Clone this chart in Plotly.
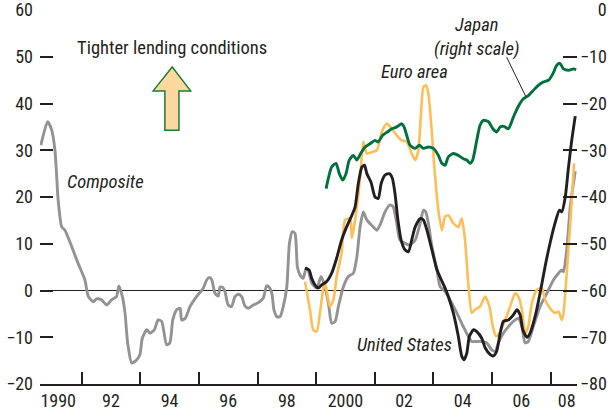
import plotly.graph_objects as go

# ---- data (x in fractional years; left scale for Composite/US/Euro, right scale for Japan)
composite_x = [1989.61,1989.84,1989.98,1990.09,1990.15,1990.20,1990.32,1990.43,1990.66,1990.88,
               1991.11,1991.23,1991.40,1991.51,1991.68,1991.85,1992.02,1992.19,1992.27,1992.39,
               1992.48,1992.57,1992.71,1992.88,1992.99,1993.07,1993.22,1993.33,1993.48,1993.61,
               1993.73,1993.90,1994.01,1994.11,1994.24,1994.36,1994.41,1994.53,1994.70,1994.92,
               1995.15,1995.27,1995.36,1995.44,1995.55,1995.66,1995.72,1995.81,1995.89,1996.00,
               1996.12,1996.23,1996.35,1996.46,1996.57,1996.69,1996.86,1997.03,1997.20,1997.31,
               1997.40,1997.49,1997.56,1997.66,1997.77,1997.88,1998.00,1998.09,1998.19,1998.28,
               1998.36,1998.45,1998.56,1998.66,1998.73,1998.85,1999.02,1999.17,1999.30,1999.42,
               1999.53,1999.65,1999.76,1999.93,2000.10,2000.27,2000.39,2000.50,2000.61,2000.73,
               2000.95,2001.07,2001.18,2001.35,2001.52,2001.63,2001.75,2001.86,2002.03,2002.20,
               2002.38,2002.55,2002.66,2002.74,2002.83,2002.95,2003.12,2003.23,2003.40,2003.57,
               2003.80,2004.02,2004.19,2004.31,2004.48,2004.65,2004.82,2004.99,2005.11,2005.22,
               2005.39,2005.62,2005.79,2005.90,2006.02,2006.13,2006.24,2006.41,2006.64,2006.87,
               2007.10,2007.27,2007.38,2007.44,2007.55,2007.67,2007.84]
composite_y = [31.1,36.1,34.3,30.0,24.3,19.3,13.6,12.9,9.4,5.8,
               2.3,-1.3,-2.4,-1.8,-2.0,-3.1,-2.0,-1.3,1.0,-1.3,
               -4.8,-11.2,-15.5,-14.8,-13.7,-10.2,-8.4,-9.1,-8.4,-6.3,
               -6.6,-11.6,-11.2,-6.3,-4.1,-3.8,-6.3,-6.0,-3.4,-1.3,
               0.5,2.3,2.8,2.3,-0.6,-1.2,0.7,0.7,-0.2,-3.1,
               -3.4,-1.3,-0.8,-1.3,-3.3,-3.8,-3.1,-2.6,-1.6,1.0,
               0.7,-0.6,-4.1,-5.6,-5.6,-3.4,0.8,10.1,12.6,12.2,
               5.1,3.3,2.6,4.8,4.4,1.6,0.5,3.0,0.8,-2.7,
               -7.0,-6.6,-3.4,0.8,3.0,3.7,7.2,13.6,16.8,15.1,
               13.6,12.9,14.0,16.8,18.3,17.9,14.4,10.8,10.1,9.7,
               10.8,14.4,17.2,16.8,14.4,9.4,4.4,0.8,-0.2,-2.0,
               -4.8,-7.7,-9.8,-10.9,-10.9,-10.9,-11.2,-12.7,-13.0,-11.2,
               -9.1,-7.3,-6.3,-5.9,-7.7,-11.2,-10.9,-7.7,-3.4,-0.6,
               2.3,3.7,4.4,4.0,8.7,17.9,25.5]

us_x = [1998.62,1998.76,1998.85,1998.96,1999.08,1999.19,1999.36,1999.53,1999.70,1999.87,
        2000.04,2000.22,2000.33,2000.44,2000.56,2000.65,2000.73,2000.87,2001.01,2001.12,
        2001.22,2001.35,2001.50,2001.60,2001.69,2001.79,2001.90,2002.03,2002.15,2002.26,
        2002.38,2002.55,2002.66,2002.78,2002.95,2003.12,2003.29,2003.40,2003.51,2003.68,
        2003.85,2003.97,2004.05,2004.14,2004.23,2004.37,2004.48,2004.65,2004.77,2004.94,
        2005.05,2005.16,2005.28,2005.39,2005.56,2005.73,2005.85,2005.96,2006.05,2006.19,
        2006.30,2006.47,2006.64,2006.81,2006.98,2007.15,2007.30,2007.38,2007.50,2007.61,
        2007.72,2007.84]
us_y = [4.8,4.4,2.6,1.2,0.5,1.2,1.9,3.7,6.9,10.8,
        13.6,16.1,17.9,22.9,26.4,26.8,25.0,23.2,20.0,19.7,
        22.9,24.7,25.0,24.0,20.8,15.1,10.8,8.7,8.3,10.8,
        13.6,15.4,15.1,12.9,8.7,4.5,2.0,0.5,-1.3,-4.8,
        -9.8,-14.1,-14.8,-13.4,-9.8,-8.4,-8.8,-10.2,-12.3,-13.7,
        -14.0,-13.0,-9.1,-6.6,-6.3,-5.2,-4.1,-5.2,-8.4,-10.0,
        -9.1,-5.6,-0.6,5.1,10.1,14.4,17.2,16.8,20.0,26.4,
        32.1,37.3]

euro_x = [1998.62,1998.79,1998.90,1999.02,1999.13,1999.25,1999.30,1999.47,1999.59,1999.70,
          1999.87,1999.99,2000.16,2000.22,2000.33,2000.44,2000.52,2000.61,2000.73,2000.90,
          2001.07,2001.24,2001.41,2001.58,2001.75,2001.92,2002.09,2002.26,2002.38,2002.49,
          2002.57,2002.66,2002.75,2002.83,2002.95,2003.06,2003.17,2003.29,2003.40,2003.51,
          2003.68,2003.85,2003.97,2004.08,2004.19,2004.31,2004.42,2004.59,2004.77,2004.91,
          2005.03,2005.14,2005.28,2005.45,2005.62,2005.79,2005.90,2006.02,2006.13,2006.24,
          2006.36,2006.53,2006.70,2006.81,2006.98,2007.15,2007.27,2007.38,2007.44,2007.55,
          2007.67,2007.80]
euro_y = [1.9,-4.1,-8.4,-8.8,-4.8,0.8,1.9,-3.4,-2.0,3.0,
          8.0,15.1,15.4,11.2,15.1,20.5,25.5,31.8,29.3,29.6,
          30.0,33.9,35.7,34.6,33.2,32.1,31.8,29.3,27.9,30.0,
          37.1,43.5,43.9,42.1,33.6,24.3,17.2,12.9,15.8,16.1,
          14.4,13.6,15.4,10.8,1.6,-4.8,-4.1,-3.4,-1.3,-3.4,
          -7.7,-9.8,-8.8,-6.3,-3.4,-0.6,-1.3,-4.1,-9.1,-7.7,
          -2.7,0.1,0.5,-2.0,-3.8,-4.8,-4.5,-6.3,-4.8,3.7,
          14.4,27.2]

japan_x = [1999.34,1999.53,1999.68,1999.79,1999.91,2000.02,2000.13,2000.27,2000.39,2000.52,
           2000.67,2000.84,2001.01,2001.12,2001.27,2001.43,2001.58,2001.75,2001.92,2002.00,
           2002.09,2002.20,2002.38,2002.52,2002.66,2002.83,2003.00,2003.17,2003.29,2003.40,
           2003.51,2003.68,2003.85,2004.02,2004.14,2004.25,2004.34,2004.48,2004.59,2004.71,
           2004.88,2005.03,2005.16,2005.28,2005.41,2005.56,2005.73,2005.90,2006.07,2006.24,
           2006.41,2006.58,2006.75,2006.93,2007.08,2007.21,2007.32,2007.44,2007.61,2007.78,
           2007.87]
japan_y = [-38.2,-33.6,-32.8,-35.0,-36.4,-35.0,-32.1,-31.1,-32.1,-30.7,
           -29.3,-28.6,-27.9,-28.2,-26.8,-26.1,-25.4,-25.0,-24.3,-25.0,
           -26.8,-28.9,-29.6,-28.9,-29.6,-29.3,-29.6,-31.1,-32.8,-33.2,
           -31.4,-30.7,-31.1,-31.8,-32.1,-32.8,-32.1,-27.9,-24.7,-23.6,
           -23.9,-25.4,-26.1,-25.0,-24.9,-25.4,-22.9,-20.6,-19.0,-18.3,
           -17.2,-16.1,-15.4,-15.0,-13.6,-11.8,-11.4,-12.6,-12.9,-12.6,
           -12.8]

label_years = [1990.2, 1992, 1994, 1996, 1998, 2000, 2002, 2004, 2006, 2007.55]
label_text = ["1990", "92", "94", "96", "98", "2000", "02", "04", "06", "08"]
minor_tick_years = [1991, 1993, 1995, 1997, 1999, 2001, 2003, 2005, 2007]
left_ticks = [-20, -10, 0, 10, 20, 30, 40, 50, 60]
left_text = ["\u221220", "\u221210", "0", "10", "20", "30", "40", "50", "60"]
right_ticks = [-80, -70, -60, -50, -40, -30, -20, -10, 0]
right_text = ["\u221280", "\u221270", "\u221260", "\u221250", "\u221240", "\u221230",
              "\u221220", "\u221210", "\u2007\u20070"]

FONT = "Liberation Sans Narrow, Arial Narrow, Roboto Condensed, Liberation Sans, Arial, sans-serif"
INK = "#231F20"
GRAY = "#939393"
YELLOW = "#FDBE57"
GREEN = "#00703C"

fig = go.Figure()
line_shape = dict(shape="spline", smoothing=0.6)
fig.add_trace(go.Scatter(x=composite_x, y=composite_y, mode="lines",
                         line=dict(color=GRAY, width=2.9, **line_shape)))
fig.add_trace(go.Scatter(x=euro_x, y=euro_y, mode="lines",
                         line=dict(color=YELLOW, width=2.6, **line_shape)))
fig.add_trace(go.Scatter(x=us_x, y=us_y, mode="lines",
                         line=dict(color=INK, width=2.9, **line_shape)))
fig.add_trace(go.Scatter(x=japan_x, y=japan_y, mode="lines", yaxis="y2",
                         line=dict(color=GREEN, width=2.9, **line_shape)))

fig.update_layout(
    width=615, height=418,
    margin=dict(l=40, r=38, t=10, b=34, autoexpand=False),
    paper_bgcolor="white", plot_bgcolor="white",
    showlegend=False,
    font=dict(family=FONT, size=18, color=INK),
    xaxis=dict(range=[1989.58, 2007.9], tickmode="array", tickvals=label_years,
               ticktext=label_text, ticks="", showgrid=False, zeroline=False,
               showline=True, linecolor=INK, linewidth=1.5, automargin=False,
               ticklabeloverflow="allow",
               tickfont=dict(size=18, color=INK),
               minor=dict(tickmode="array", tickvals=minor_tick_years, ticks="inside",
                          ticklen=12, tickwidth=1.5, tickcolor=INK, showgrid=False)),
    yaxis=dict(range=[-20, 60], tickmode="array", tickvals=left_ticks, ticktext=left_text,
               ticks="inside", ticklen=13, tickwidth=1.5, tickcolor=INK, automargin=False,
               ticklabeloverflow="allow",
               showgrid=False, showline=False, zeroline=True, zerolinecolor=INK,
               zerolinewidth=1.3, tickfont=dict(size=18, color=INK), ticklabelstandoff=6),
    yaxis2=dict(range=[-80, 0], overlaying="y", side="right", tickmode="array",
                tickvals=right_ticks, ticktext=right_text, ticks="inside", ticklen=14,
                tickwidth=1.5, tickcolor=INK, showgrid=False, showline=False, automargin=False,
                ticklabeloverflow="allow",
                zeroline=False, tickfont=dict(size=18, color=INK), ticklabelstandoff=2),
)

# arrow (decoration) in data coordinates
fig.add_shape(type="path",
              path="M 1994.09 47.8 L 1994.72 42.7 L 1994.32 42.7 L 1994.32 34.3 "
                   "L 1993.84 34.3 L 1993.84 42.7 L 1993.44 42.7 Z",
              xref="x", yref="y", fillcolor="#FDD9A0", line=dict(color="#1E7A3A", width=1.5))
# leader line for Japan label
fig.add_shape(type="line", x0=2005.50, y0=49.9, x1=2006.16, y1=41.4, xref="x", yref="y",
              line=dict(color=INK, width=1))

ann = dict(showarrow=False, xref="x", yref="y", font=dict(family=FONT, size=18.5, color=INK))
fig.add_annotation(x=1994.09, y=51.8, text="Tighter lending conditions", **ann)
fig.add_annotation(x=1991.83, y=23.2, text="<i>Composite</i>", **ann)
fig.add_annotation(x=2002.34, y=46.7, text="<i>Euro area</i>", **ann)
fig.add_annotation(x=2004.49, y=54.2, text="<i>Japan<br>(right scale)</i>", **ann)
fig.add_annotation(x=2002.0, y=-11.6, text="<i>United States</i>", **ann)

fig.write_html("out.html", config={"displayModeBar": False},
               post_script="document.body.style.margin='0';document.body.style.overflow='hidden';")
